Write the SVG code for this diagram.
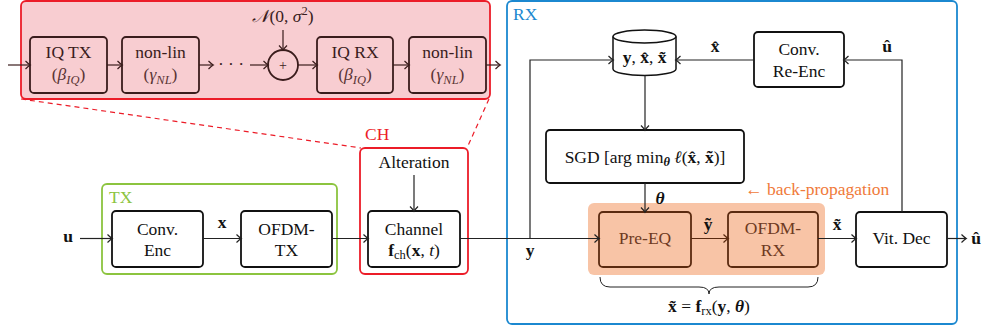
<svg xmlns="http://www.w3.org/2000/svg" width="987" height="334" viewBox="0 0 987 334">
<defs>
<marker id="ar" viewBox="-6 -5 8 10" markerWidth="8" markerHeight="10" refX="0" refY="0" orient="auto" markerUnits="userSpaceOnUse">
<path d="M-4.5,-4 Q-1.5,-1 0.3,0 Q-1.5,1 -4.5,4" fill="none" stroke="#222" stroke-width="1.2"/>
</marker>
<marker id="arb" viewBox="-6 -5 8 10" markerWidth="8" markerHeight="10" refX="0" refY="0" orient="auto" markerUnits="userSpaceOnUse">
<path d="M-4.5,-4 Q-1.5,-1 0.3,0 Q-1.5,1 -4.5,4" fill="none" stroke="#5a2a10" stroke-width="1.2"/>
</marker>
<marker id="arr" viewBox="-6 -5 8 10" markerWidth="8" markerHeight="10" refX="0" refY="0" orient="auto" markerUnits="userSpaceOnUse">
<path d="M-4.5,-4 Q-1.5,-1 0.3,0 Q-1.5,1 -4.5,4" fill="none" stroke="#3a1c1c" stroke-width="1.2"/>
</marker>
</defs>
<style>
text{font-family:"Liberation Serif","Times New Roman",Tinos,"DejaVu Serif",serif;font-size:17.5px;fill:#111;}
.c{text-anchor:middle;}
.box{fill:#fff;stroke:#111;stroke-width:1.8;}
.rbox{fill:none;stroke:#3a1c1c;stroke-width:1.8;}
.obox{fill:none;stroke:#5a2a10;stroke-width:1.8;}
.ln{fill:none;stroke:#222;stroke-width:1.2;marker-end:url(#ar);}
.lnr{fill:none;stroke:#3a1c1c;stroke-width:1.2;marker-end:url(#arr);}
.lnb{fill:none;stroke:#5a2a10;stroke-width:1.2;marker-end:url(#arb);}
.b{font-weight:bold;}
.i{font-style:italic;}
.rt{fill:#3a1c1c;}
.rm{fill:#5a3434;}
.ot{fill:#6e3a22;}
.sub{font-size:12.5px;}
</style>

<!-- containers -->
<g id="impairments">
<rect x="21" y="1" width="469" height="98" rx="5" fill="#f8cdd1" stroke="#ec1c28" stroke-width="1.8"/>
</g>
<g id="zoom-lines">
<line x1="21" y1="99" x2="361" y2="148" stroke="#ec1c28" stroke-width="1.2" stroke-dasharray="5,4"/>
<line x1="489" y1="99" x2="467" y2="148" stroke="#ec1c28" stroke-width="1.2" stroke-dasharray="5,4"/>
</g>
<g id="TX">
<rect x="102" y="184" width="235" height="90" rx="5" fill="none" stroke="#8cc43f" stroke-width="1.8"/>
<text x="109" y="203" style="fill:#8cc43f">TX</text>
</g>
<g id="CH">
<rect x="360" y="148" width="108" height="126" rx="5" fill="none" stroke="#ec1c28" stroke-width="1.8"/>
<text x="365" y="140" style="fill:#ec1c28">CH</text>
</g>
<g id="RX">
<rect x="507" y="1" width="450" height="323" rx="5" fill="none" stroke="#1b88d0" stroke-width="1.8"/>
<text x="513" y="20" style="fill:#1b88d0">RX</text>
</g>
<g id="frx-bg">
<rect x="588" y="203" width="237" height="72" rx="6" fill="#f8c4a6"/>
</g>

<!-- impairment chain nodes -->
<g id="iq-tx">
<rect class="rbox" x="30" y="37" width="77" height="56" rx="4"/>
<text class="c rt" x="68.5" y="57.5">IQ TX</text>
<text class="c rm" x="68.5" y="80">(<tspan class="i">β</tspan><tspan class="i sub" dy="4">IQ</tspan><tspan dy="-4">)</tspan></text>
</g>
<g id="nonlin-1">
<rect class="rbox" x="122" y="37" width="77" height="56" rx="4"/>
<text class="c rt" x="160.5" y="57.5">non-lin</text>
<text class="c rm" x="160.5" y="80">(<tspan class="i">γ</tspan><tspan class="i sub" dy="4">NL</tspan><tspan dy="-4">)</tspan></text>
</g>
<g id="dots">
<text class="c rt" x="231" y="70">· · ·</text>
</g>
<g id="adder">
<circle cx="283" cy="65" r="15" fill="none" stroke="#3a1c1c" stroke-width="1.8"/>
<text class="c rt" x="283" y="70" style="font-size:14px">+</text>
</g>
<g id="noise">
<text class="c rt" x="283" y="22"><tspan class="i">𝒩</tspan>(0, <tspan class="i">σ</tspan><tspan class="sub" dy="-7">2</tspan><tspan dy="7">)</tspan></text>
</g>
<g id="iq-rx">
<rect class="rbox" x="317" y="37" width="76" height="56" rx="4"/>
<text class="c rt" x="355" y="57.5">IQ RX</text>
<text class="c rm" x="355" y="80">(<tspan class="i">β</tspan><tspan class="i sub" dy="4">IQ</tspan><tspan dy="-4">)</tspan></text>
</g>
<g id="nonlin-2">
<rect class="rbox" x="409" y="37" width="77" height="56" rx="4"/>
<text class="c rt" x="447.5" y="57.5">non-lin</text>
<text class="c rm" x="447.5" y="80">(<tspan class="i">γ</tspan><tspan class="i sub" dy="4">NL</tspan><tspan dy="-4">)</tspan></text>
</g>

<!-- main chain nodes -->
<g id="conv-enc">
<rect class="box" x="112" y="211" width="91" height="56" rx="4"/>
<text class="c" x="157.5" y="234.5">Conv.</text>
<text class="c" x="157.5" y="256">Enc</text>
</g>
<g id="ofdm-tx">
<rect class="box" x="241" y="211" width="91" height="56" rx="4"/>
<text class="c" x="286.5" y="234.5">OFDM-</text>
<text class="c" x="286.5" y="256">TX</text>
</g>
<g id="alteration">
<text class="c" x="414" y="168">Alteration</text>
</g>
<g id="channel">
<rect class="box" x="368" y="211" width="92" height="56" rx="4"/>
<text class="c" x="414" y="234.5">Channel</text>
<text class="c" x="414" y="256"><tspan class="b">f</tspan><tspan class="sub" dy="3">ch</tspan><tspan dy="-3">(</tspan><tspan class="b">x</tspan>, <tspan class="i">t</tspan>)</text>
</g>
<g id="memory">
<path d="M613,36.5 V69 A31.5,6.5 0 0 0 676,69 V36.5" fill="#fff" stroke="#111" stroke-width="1.5"/>
<ellipse cx="644.5" cy="36.5" rx="31.5" ry="6.5" fill="#fff" stroke="#111" stroke-width="1.5"/>
<text class="c" x="644.5" y="63"><tspan class="b">y</tspan>, <tspan class="b">x̂</tspan>, <tspan class="b">x̃</tspan></text>
</g>
<g id="re-enc">
<rect class="box" x="754" y="32" width="90" height="55" rx="4"/>
<text class="c" x="799" y="55">Conv.</text>
<text class="c" x="799" y="77">Re-Enc</text>
</g>
<g id="sgd">
<rect class="box" x="546" y="130" width="198" height="53" rx="4"/>
<text class="c" x="645" y="162.5">SGD [arg min<tspan class="b i sub" dy="3">θ</tspan><tspan dy="-3"> </tspan><tspan class="i">ℓ</tspan>(<tspan class="b">x̂</tspan>, <tspan class="b">x̃</tspan>)]</text>
</g>
<g id="pre-eq">
<rect class="obox" x="599" y="212" width="92" height="55" rx="4"/>
<text class="c ot" x="645" y="244">Pre-EQ</text>
</g>
<g id="ofdm-rx">
<rect class="obox" x="728" y="212" width="90" height="55" rx="4"/>
<text class="c ot" x="773" y="234">OFDM-</text>
<text class="c ot" x="773" y="256">RX</text>
</g>
<g id="vit-dec">
<rect class="box" x="856" y="212" width="91" height="55" rx="4"/>
<text class="c" x="901.5" y="244">Vit. Dec</text>
</g>
<g id="backprop">
<text x="745" y="195" style="fill:#f07a3a">← back-propagation</text>
</g>
<g id="brace">
<path d="M600,277 Q600,287 610,287 L699,287 Q709,287 709,294 Q709,287 719,287 L808,287 Q818,287 818,277" fill="none" stroke="#222" stroke-width="1"/>
<text class="c" x="709" y="312"><tspan class="b">x̃</tspan> = <tspan class="b">f</tspan><tspan class="sub" dy="3">rx</tspan><tspan dy="-3">(</tspan><tspan class="b">y</tspan>, <tspan class="b i">θ</tspan>)</text>
</g>

<!-- connectors -->
<g id="connectors">
<path class="lnr" d="M8,65 H30"/>
<path class="lnr" d="M107,65 H122"/>
<path class="lnr" d="M199,65 H213"/>
<path class="lnr" d="M250,65 H268"/>
<path class="lnr" d="M283,30 V50"/>
<path class="lnr" d="M298,65 H317"/>
<path class="lnr" d="M393,65 H409"/>
<path class="lnr" d="M486,65 H500"/>
<path class="ln" d="M80,238.5 H112"/>
<path class="ln" d="M203,238.5 H241"/>
<path class="ln" d="M332,238.5 H368"/>
<path class="ln" d="M414,175 V211"/>
<path class="ln" d="M460,238.5 H599"/>
<path class="ln" d="M530,238.5 V60 H613"/>
<path class="ln" d="M645,75.5 V130"/>
<path class="ln" d="M754,60 H676"/>
<path class="ln" d="M902,212 V60 H844"/>
<path class="ln" d="M645,183 V212"/>
<path class="lnb" d="M691,238.5 H728"/>
<path class="ln" d="M818,238.5 H856"/>
<path class="ln" d="M947,238.5 H966"/>
</g>

<!-- connector labels -->
<g id="labels">
<text class="c b" x="68" y="242">u</text>
<text class="c b" x="222" y="228">x</text>
<text class="c b" x="530" y="256">y</text>
<text class="c b" x="715" y="52">x̂</text>
<text class="c b" x="887" y="52">û</text>
<text class="c b i" x="660" y="204">θ</text>
<text class="c b" x="708" y="230">ỹ</text>
<text class="c b" x="837" y="230">x̃</text>
<text class="c b" x="976" y="244">û</text>
</g>
</svg>
